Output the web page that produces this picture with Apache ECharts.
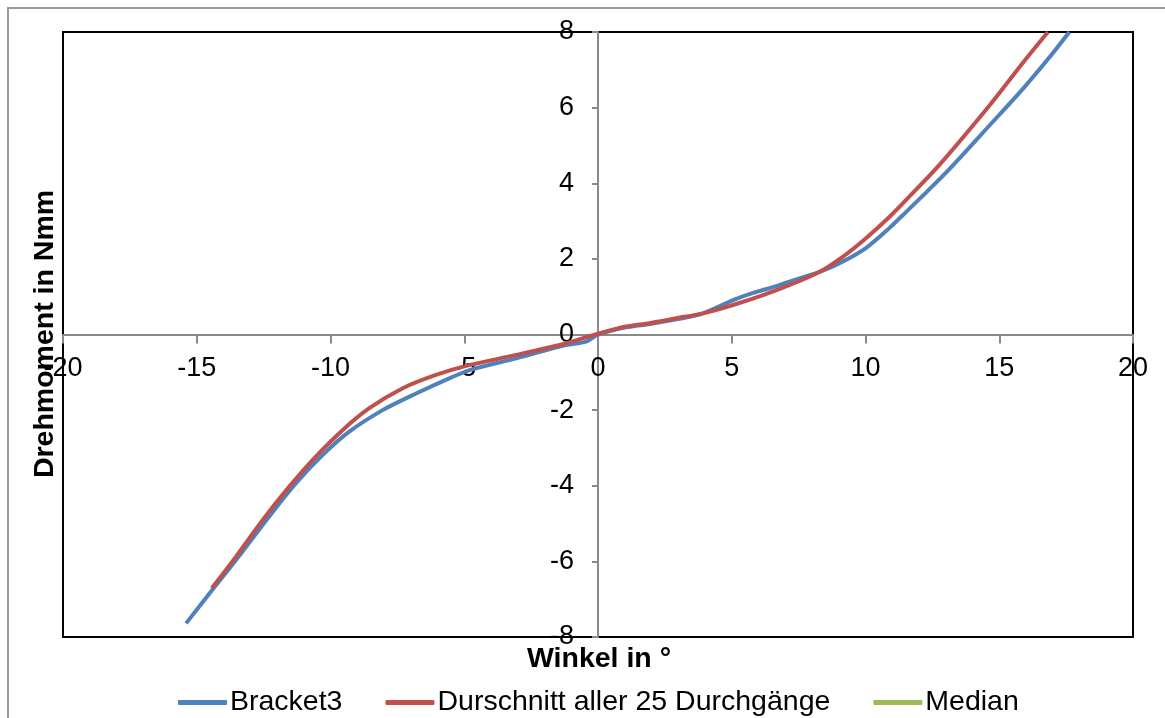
<!DOCTYPE html>
<html>
<head>
<meta charset="utf-8">
<script src="https://cdn.jsdelivr.net/npm/echarts@6/dist/echarts.min.js"></script>
<style>
  html, body { margin: 0; padding: 0; background: #fff; }
  #chart { width: 1165px; height: 718px; }
</style>
</head>
<body>
<div id="chart"></div>
<script>
// Torque vs. angle, Bracket3 against the average of all 25 runs
const seriesNames = ['Bracket3', 'Durschnitt aller 25 Durchgänge', 'Median'];

// Bracket3: [Winkel in °, Drehmoment in Nmm]
const bracket3 = [
  [-15.4, -7.64], [-14.4, -6.74], [-13.3, -5.75], [-12.3, -4.82], [-11.3, -3.94],
  [-10.3, -3.19], [-9.3, -2.57], [-8.05, -2.0], [-6.8, -1.56], [-5.56, -1.16],
  [-4.8, -0.94], [-3.06, -0.63], [-1.2, -0.28], [-0.45, -0.19], [0, 0],
  [1.05, 0.19], [1.95, 0.28], [2.93, 0.4], [3.92, 0.56], [5.05, 0.91],
  [5.8, 1.1], [6.67, 1.28], [7.42, 1.46], [8.41, 1.69], [9.16, 1.93],
  [10.04, 2.3], [10.9, 2.82], [11.53, 3.25], [12.3, 3.78], [13.09, 4.34],
  [14.65, 5.54], [15.9, 6.51], [16.9, 7.35], [17.62, 8.0]
];

// Average of all 25 runs
const durchschnitt = [
  [-14.44, -6.71], [-13.54, -5.88], [-12.54, -4.91], [-11.55, -4.03], [-10.55, -3.23],
  [-9.55, -2.53], [-8.55, -1.95], [-7.3, -1.42], [-6.06, -1.07], [-4.93, -0.83],
  [-3.06, -0.54], [-1.19, -0.23], [0, 0.02], [1.05, 0.21], [1.93, 0.3],
  [2.93, 0.43], [3.92, 0.56], [5.05, 0.78], [6.17, 1.04], [7.17, 1.31],
  [8.29, 1.66], [9.16, 2.06], [10.04, 2.56], [10.91, 3.12], [11.6, 3.62],
  [12.78, 4.5], [14.65, 6.07], [15.9, 7.2], [16.82, 8.0]
];

// Median (no points plotted)
const median = [];

const xTicks = { min: -20, max: 20, step: 5 };
const yTicks = { min: -8, max: 8, step: 2 };

const FONT = '"Liberation Sans", Arial, sans-serif';
const colors = ['#4F81BD', '#C0504D', '#9BBB59'];

const chart = echarts.init(document.getElementById('chart'), null, { renderer: 'canvas' });

const lineSeries = (name, data, color) => ({
  name: name,
  type: 'line',
  data: data,
  smooth: 0.3,
  showSymbol: false,
  symbol: 'none',
  lineStyle: { color: color, width: 4 },
  itemStyle: { color: color },
  animation: false
});

const axisGray = '#8a8a8a';

chart.setOption({
  animation: false,
  backgroundColor: '#fff',
  textStyle: { fontFamily: FONT },
  grid: {
    left: 63, right: 32, top: 32, bottom: 81,
    show: true, borderColor: '#000', borderWidth: 2,
    backgroundColor: 'transparent'
  },
  xAxis: {
    type: 'value', position: 'bottom',
    min: xTicks.min, max: xTicks.max, interval: xTicks.step,
    axisLine: { onZero: false, lineStyle: { color: axisGray, width: 2 } },
    axisTick: { show: true, length: 9, inside: false, lineStyle: { color: axisGray, width: 2 } },
    axisLabel: { color: '#000', fontSize: 27, fontFamily: FONT, margin: 21, showMinLabel: true, showMaxLabel: true },
    splitLine: { show: false }
  },
  yAxis: {
    type: 'value', position: 'left',
    min: yTicks.min, max: yTicks.max, interval: yTicks.step,
    axisLine: { onZero: false, lineStyle: { color: axisGray, width: 2 } },
    axisTick: { show: true, length: 6, inside: false, lineStyle: { color: axisGray, width: 2 } },
    axisLabel: { color: '#000', fontSize: 27, fontFamily: FONT, margin: 24, showMinLabel: true, showMaxLabel: true },
    splitLine: { show: false }
  },
  legend: {
    data: seriesNames,
    left: 173,
    top: 683,
    icon: 'roundRect',
    itemWidth: 49,
    itemHeight: 5,
    itemGap: 43,
    textStyle: { color: '#000', fontSize: 28.5, fontFamily: FONT, lineHeight: 28, padding: [0, 0, 0, -2] }
  },
  graphic: [
    {
      type: 'rect', silent: true, z: -1,
      shape: { x: 8, y: 8, width: 1300, height: 900 },
      style: { fill: 'none', stroke: '#9a9a9a', lineWidth: 2 }
    },
    {
      type: 'text', silent: true,
      x: 599, y: 659,
      style: {
        text: 'Winkel in °', fill: '#000',
        font: 'bold 28.5px ' + FONT,
        textAlign: 'center', textVerticalAlign: 'middle'
      }
    },
    {
      type: 'text', silent: true,
      x: 45, y: 334, rotation: Math.PI / 2,
      style: {
        text: 'Drehmoment in Nmm', fill: '#000',
        font: 'bold 28.5px ' + FONT,
        textAlign: 'center', textVerticalAlign: 'middle'
      }
    }
  ],
  series: [
    lineSeries(seriesNames[0], bracket3, colors[0]),
    lineSeries(seriesNames[1], durchschnitt, colors[1]),
    lineSeries(seriesNames[2], median, colors[2])
  ]
});

// Move both axes (line, ticks and labels) onto the zero crossing of the other axis
const origin = chart.convertToPixel({ gridIndex: 0 }, [0, 0]);
const corner = chart.convertToPixel({ gridIndex: 0 }, [xTicks.min, yTicks.min]);
chart.setOption({
  xAxis: { offset: origin[1] - corner[1] },
  yAxis: { offset: corner[0] - origin[0] }
});
</script>
</body>
</html>
